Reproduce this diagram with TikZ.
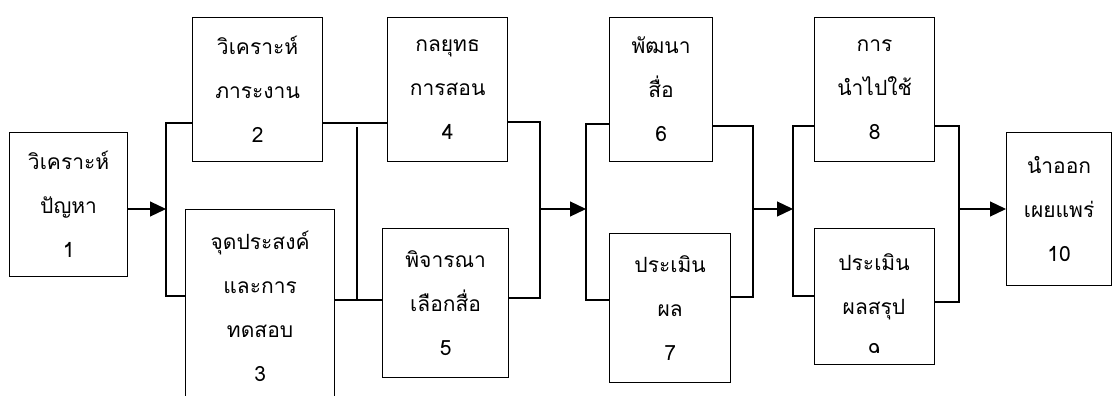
\documentclass[tikz,border=0pt]{standalone}
\usepackage{fontspec}
\newfontfamily\thaifont[Script=Thai]{Loma}
\usetikzlibrary{arrows.meta}
\tikzset{
  blk/.style={draw, line width=1.2pt, anchor=north west, align=center, inner sep=0pt,
    font=\thaifont\fontsize{21}{44}\selectfont},
  txt/.style={align=center, inner sep=0pt, font=\thaifont\fontsize{21}{44}\selectfont},
  lnk/.style={line width=1.2pt},
  arr/.style={line width=1.2pt, -{Triangle[length=16pt,width=15pt]}}
}
\begin{document}
\begin{tikzpicture}[x=1pt,y=-1pt]
    \clip (0,0) rectangle (1112,396);
    % blocks
    \node[blk, minimum width=118, minimum height=144] (b1) at (9,132) {วิเคราะห์\\ปัญหา\\1};
    \node[blk, minimum width=130, minimum height=144] (b2) at (192,17) {วิเคราะห์\\ภาระงาน\\2};
    \node[blk, minimum width=149, minimum height=193] (b3) at (185,209) {จุดประสงค์\\และการ\\ทดสอบ\\3};
    \node[blk, minimum width=120, minimum height=144] (b4) at (387,17) {กลยุทธ\\การสอน\\4};
    \node[blk, minimum width=126, minimum height=149] (b5) at (382,228) {พิจารณา\\เลือกสื่อ\\5};
    \node[blk, minimum width=103, minimum height=144] (b6) at (609,17) {พัฒนา\\สื่อ\\6};
    \node[blk, minimum width=121, minimum height=149] (b7) at (609,233) {ประเมิน\\ผล\\7};
    \node[blk, minimum width=120, minimum height=144] (b8) at (814,17) {การ\\นำไปใช้\\8};
    \node[blk, minimum width=120, minimum height=136] (b9) at (814,228) {};
    \begin{scope}
        \clip (b9.north west) rectangle ([yshift=13pt]b9.south east);
        \node[txt] (t9) at (874,306) {ประเมิน\\ผลสรุป\\9};
    \end{scope}
    \node[blk, minimum width=105, minimum height=153] (b10) at (1006,132) {นำออก\\เผยแพร่\\10};

    % junctions
    \coordinate (j1) at (166,209);
    \coordinate (j2) at (357,127);
    \coordinate (j3) at (540,209);
    \coordinate (j4) at (586,209);
    \coordinate (j5) at (753,209);
    \coordinate (j6) at (793,209);
    \coordinate (j7) at (959,209);

    \draw[arr] (b1.east |- j1) -- (j1);
    \draw[lnk] (b2.west |- 0,123) -| (j1 |- 0,296) -- (b3.west |- 0,296);

    \draw[lnk] (b2.east |- 0,123) -- (b4.west |- 0,123);
    \draw[lnk] (b3.east |- 0,300) -- (b5.west |- 0,300);
    \draw[lnk] (j2) -- (j2 |- 0,300);

    \draw[lnk] (b4.east |- 0,122) -| (j3 |- 0,298) -- (b5.east |- 0,298);
    \draw[arr] (j3) -- (j4);
    \draw[lnk] (b6.west |- 0,124) -| (j4 |- 0,300) -- (b7.west |- 0,300);

    \draw[lnk] (b6.east |- 0,126) -| (j5 |- 0,297) -- (b7.east |- 0,297);
    \draw[arr] (j5) -- (j6);
    \draw[lnk] (b8.west |- 0,126) -| (j6 |- 0,296) -- (b9.west |- 0,296);

    \draw[lnk] (b8.east |- 0,126) -| (j7 |- 0,302) -- (b9.east |- 0,302);
    \draw[arr] (j7) -- (b10.west |- j7);
\end{tikzpicture}
\end{document}
